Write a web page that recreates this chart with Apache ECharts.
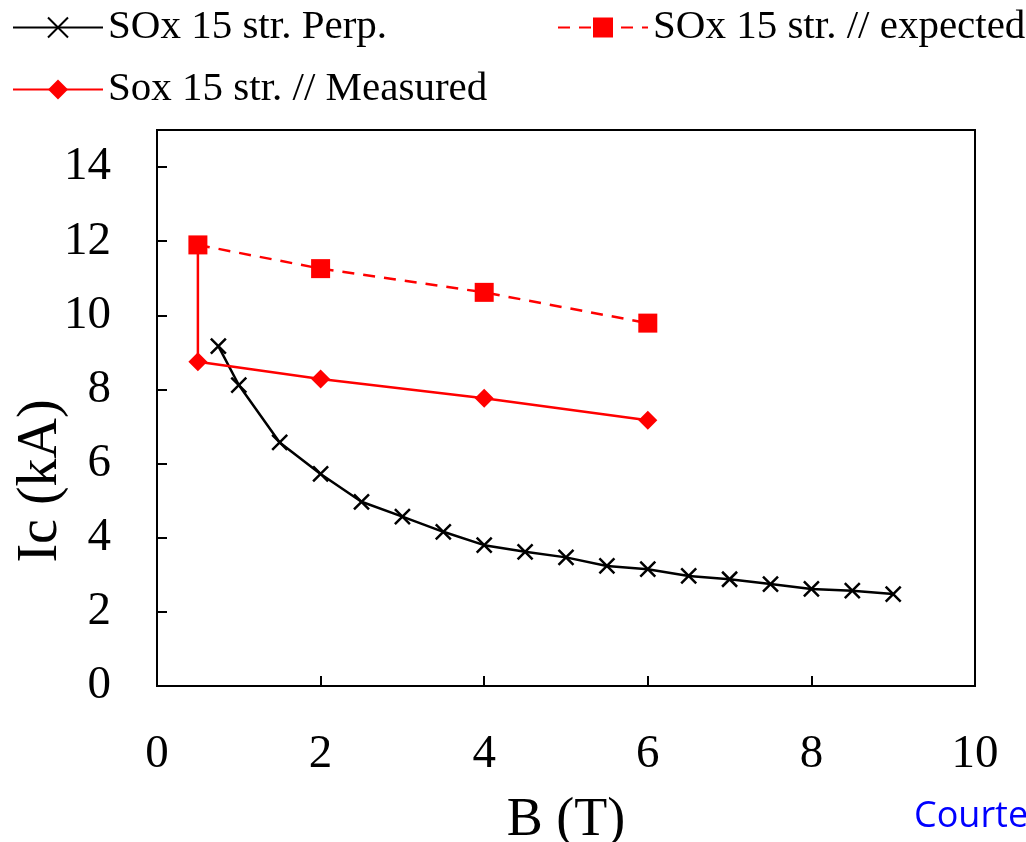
<!DOCTYPE html>
<html>
<head>
<meta charset="utf-8">
<script src="https://cdn.jsdelivr.net/npm/echarts@6/dist/echarts.min.js"></script>
<style>
  html, body { margin: 0; padding: 0; background: #fff; }
  #chart { width: 1026px; height: 842px; }
</style>
</head>
<body>
<div id="chart"></div>
<script>
// Critical current vs field for SOx 15-strand cable
const perpB  = [0.75, 1, 1.5, 2, 2.5, 3, 3.5, 4, 4.5, 5, 5.5, 6, 6.5, 7, 7.5, 8, 8.5, 9];
const perpIc = [9.17, 8.12, 6.57, 5.72, 4.97, 4.57, 4.16, 3.80, 3.62, 3.47, 3.24, 3.15, 2.97, 2.88, 2.75, 2.62, 2.57, 2.48];

const expectedB  = [0.5, 2, 4, 6];
const expectedIc = [11.9, 11.26, 10.62, 9.79];

// measured curve starts from the expected 0.5 T value and drops to the measurement
const measuredB  = [0.5, 0.5, 2, 4, 6];
const measuredIc = [11.9, 8.75, 8.28, 7.76, 7.17];

const seriesNames = ['SOx 15 str. Perp.', 'SOx 15 str. // expected', 'Sox 15 str. // Measured'];
const xTitle = 'B (T)';
const yTitle = 'Ic (kA)';
const creditText = 'Courtesy';

const serif = "'Liberation Serif', 'Times New Roman', serif";
const pair = (xs, ys) => xs.map((x, i) => [x, ys[i]]);

const chart = echarts.init(document.getElementById('chart'), null, { renderer: 'canvas' });

const legendText = { fontFamily: serif, fontSize: 41, color: '#000' };
const legendBase = {
  orient: 'horizontal', itemWidth: 90, itemHeight: 25, itemGap: 10,
  textStyle: legendText, selectedMode: false, padding: 0
};

const crossPath = 'path://M0,0L10,10M10,0L0,10';

chart.setOption({
  animation: false,
  backgroundColor: '#fff',
  legend: [
    Object.assign({}, legendBase, { data: [seriesNames[0]], left: 12, top: 7 }),
    Object.assign({}, legendBase, { data: [seriesNames[1]], left: 557, top: 7 }),
    Object.assign({}, legendBase, { data: [seriesNames[2]], left: 12, top: 69 })
  ],
  grid: {
    left: 157, right: 51, top: 130, bottom: 156,
    outerBoundsMode: 'none', containLabel: false,
    show: true, borderColor: '#000', borderWidth: 2, backgroundColor: 'transparent'
  },
  xAxis: {
    type: 'value', min: 0, max: 10, interval: 2,
    name: xTitle, nameLocation: 'middle', nameGap: 108,
    nameTextStyle: { fontFamily: serif, fontSize: 54, color: '#000' },
    axisLine: { lineStyle: { color: '#000', width: 2 } },
    axisTick: { inside: true, length: 10, lineStyle: { color: '#000', width: 2 } },
    axisLabel: { fontFamily: serif, fontSize: 47, color: '#000', margin: 45 },
    splitLine: { show: false }
  },
  yAxis: {
    type: 'value', min: 0, max: 15, interval: 2,
    axisLine: { lineStyle: { color: '#000', width: 2 } },
    axisTick: { inside: true, length: 10, lineStyle: { color: '#000', width: 2 } },
    axisLabel: {
      fontFamily: serif, fontSize: 47, color: '#000', margin: 46,
      formatter: v => (v === 15 ? '' : String(v))
    },
    splitLine: { show: false }
  },
  series: [
    {
      name: seriesNames[0], type: 'line', data: pair(perpB, perpIc),
      symbol: crossPath, symbolSize: 15,
      lineStyle: { color: '#000', width: 2.5 },
      itemStyle: { color: 'rgba(0,0,0,0)', borderColor: '#000', borderWidth: 2.5 },
      z: 3
    },
    {
      name: seriesNames[2], type: 'line',
      data: pair(measuredB, measuredIc).map((p, i) => i === 0 ? { value: p, symbol: 'none' } : p),
      symbol: 'diamond', symbolSize: 19,
      lineStyle: { color: '#ff0000', width: 2.5 },
      itemStyle: { color: '#ff0000' },
      z: 4
    },
    {
      name: seriesNames[1], type: 'line', data: pair(expectedB, expectedIc),
      symbol: 'rect', symbolSize: 19,
      lineStyle: { color: '#ff0000', width: 2.5, type: [12, 9] },
      itemStyle: { color: '#ff0000' },
      z: 5
    }
  ],
  graphic: [
    {
      type: 'text', x: 41, y: 481, rotation: Math.PI / 2,
      style: { text: yTitle, font: "56px 'Liberation Serif', 'Times New Roman', serif", fill: '#000', align: 'center', verticalAlign: 'middle' }
    },
    {
      type: 'text', left: 914, top: 799,
      style: { text: creditText, font: "36px 'Open Sans', 'Noto Sans', sans-serif", fill: '#0000ff' }
    }
  ]
});
</script>
</body>
</html>
